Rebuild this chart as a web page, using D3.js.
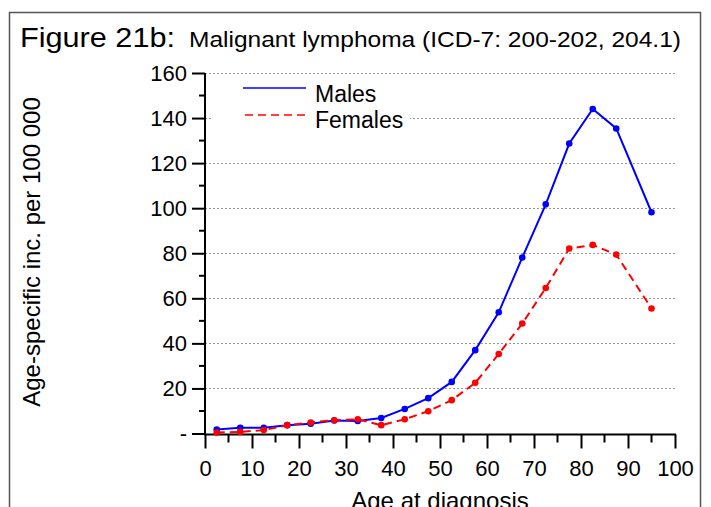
<!DOCTYPE html>
<html>
<head>
<meta charset="utf-8">
<script src="https://cdn.jsdelivr.net/npm/d3@7"></script>
<style>
  html, body { margin: 0; padding: 0; background: #fff; }
  svg { display: block; font-family: "Liberation Sans", Arial, sans-serif; }
</style>
</head>
<body>
<svg id="chart" width="711" height="507"></svg>
<script>
// Age-group midpoints (last group 90+ plotted at 95)
const ages = [2.5, 7.5, 12.5, 17.5, 22.5, 27.5, 32.5, 37.5, 42.5, 47.5, 52.5, 57.5, 62.5, 67.5, 72.5, 77.5, 82.5, 87.5, 95];
// Age-specific incidence per 100 000
const males   = [1.8, 2.5, 2.5, 3.7, 4.3, 5.8, 5.6, 6.9, 10.9, 15.7, 22.9, 37.0, 53.8, 78.1, 101.7, 128.7, 144.0, 135.4, 98.2];
const females = [0.4, 0.7, 1.5, 3.7, 4.9, 5.9, 6.3, 3.7, 6.3, 9.9, 14.8, 22.5, 35.3, 48.8, 64.6, 82.1, 83.7, 79.4, 55.5];
const yTicks = [0, 20, 40, 60, 80, 100, 120, 140, 160];
const yTickLabels = ["-", "20", "40", "60", "80", "100", "120", "140", "160"];
const xTicks = [0, 10, 20, 30, 40, 50, 60, 70, 80, 90, 100];
const seriesNames = ["Males", "Females"];

const FONT = "Liberation Sans, Arial, sans-serif";
const svg = d3.select("#chart");

// Frame around the figure
svg.append("rect")
  .attr("x", 9.5).attr("y", 12.5)
  .attr("width", 691).attr("height", 520)
  .attr("fill", "none").attr("stroke", "#555").attr("stroke-width", 1.5);

// Title
svg.append("text").attr("x", 20).attr("y", 47)
  .attr("font-size", 28).attr("textLength", 155).attr("lengthAdjust", "spacingAndGlyphs")
  .text("Figure 21b:");
svg.append("text").attr("x", 189).attr("y", 47)
  .attr("font-size", 22).attr("textLength", 492).attr("lengthAdjust", "spacingAndGlyphs")
  .text("Malignant lymphoma (ICD-7: 200-202, 204.1)");

const x = d3.scaleLinear().domain([0, 100]).range([205, 675]);
const y = d3.scaleLinear().domain([0, 160]).range([433.5, 73]);

// Dotted horizontal grid
svg.append("g").selectAll("line").data(yTicks).join("line")
  .attr("x1", x(0)).attr("x2", x(100))
  .attr("y1", d => Math.round(y(d)) + 0.5).attr("y2", d => Math.round(y(d)) + 0.5)
  .attr("stroke", "#999").attr("stroke-width", 1).attr("stroke-dasharray", "2,2");

// Y axis
const yAxis = svg.append("g").attr("transform", `translate(${x(0)},0)`)
  .call(d3.axisLeft(y).tickValues(yTicks).tickSize(13).tickPadding(5)
    .tickFormat((d, i) => yTickLabels[i]));
yAxis.attr("font-size", 22).attr("font-family", FONT);
yAxis.selectAll(".tick line").attr("stroke-width", 2);
yAxis.selectAll(".tick text").attr("fill", "#000");
yAxis.select(".domain").attr("stroke-width", 2).attr("d", `M0,${y(160)}V${y(0) + 1}`);
yAxis.append("g").selectAll("line").data(d3.range(10, 160, 20)).join("line")
  .attr("x1", -6).attr("x2", 0).attr("y1", d => y(d)).attr("y2", d => y(d))
  .attr("stroke", "#000").attr("stroke-width", 2);

// X axis
const xAxis = svg.append("g").attr("transform", `translate(0,${y(0) + 1})`)
  .call(d3.axisBottom(x).tickValues(xTicks).tickSize(14).tickPadding(12).tickFormat(d3.format("d")));
xAxis.attr("font-size", 22).attr("font-family", FONT);
xAxis.selectAll(".tick line").attr("stroke-width", 2);
xAxis.selectAll(".tick text").attr("fill", "#000");
xAxis.select(".domain").attr("stroke-width", 2).attr("d", `M${x(0) - 1},0H${x(100) + 1}`);
xAxis.append("g").selectAll("line").data(d3.range(5, 100, 10)).join("line")
  .attr("x1", d => x(d)).attr("x2", d => x(d)).attr("y1", 0).attr("y2", 8)
  .attr("stroke", "#000").attr("stroke-width", 2);

// Axis titles
svg.append("text").attr("x", 440).attr("y", 509).attr("text-anchor", "middle")
  .attr("font-size", 24).text("Age at diagnosis");
svg.append("text").attr("transform", "translate(40,252) rotate(-90)").attr("text-anchor", "middle")
  .attr("font-size", 24).text("Age-specific inc. per 100 000");

// Legend (white box masks the grid behind it)
svg.append("rect").attr("x", 212).attr("y", 80).attr("width", 198).attr("height", 52).attr("fill", "#fff");
const leg = svg.append("g");
leg.append("line").attr("x1", 243).attr("x2", 306).attr("y1", 88).attr("y2", 88)
  .attr("stroke", "#0000ff").attr("stroke-width", 1.5);
leg.append("line").attr("x1", 245).attr("x2", 306).attr("y1", 115).attr("y2", 115)
  .attr("stroke", "#ff0000").attr("stroke-width", 1.5).attr("stroke-dasharray", "8,5");
leg.append("text").attr("x", 315).attr("y", 102).attr("font-size", 23).text(seriesNames[0]);
leg.append("text").attr("x", 315).attr("y", 128).attr("font-size", 23).text(seriesNames[1]);

// Series lines and markers
const line = d3.line().x((d, i) => x(ages[i])).y(d => y(d));
function drawSeries(vals, color, dash) {
  svg.append("path").datum(vals).attr("d", line)
    .attr("fill", "none").attr("stroke", color).attr("stroke-width", 2)
    .attr("stroke-dasharray", dash);
  svg.append("g").selectAll("circle").data(vals).join("circle")
    .attr("cx", (d, i) => x(ages[i])).attr("cy", d => y(d)).attr("r", 3.3)
    .attr("fill", color);
}
drawSeries(males, "#0000ff", null);
drawSeries(females, "#ff0000", "8,5");
</script>
</body>
</html>
